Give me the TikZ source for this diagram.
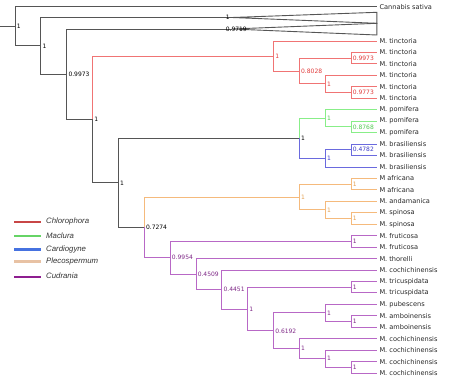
\documentclass[tikz,border=0pt]{standalone}
\usepackage{fontspec}
\setmainfont{DejaVu Sans}
\newfontfamily\legfont{Liberation Sans}
\definecolor{grayline}{HTML}{555555}
\definecolor{redline}{HTML}{F07474}
\definecolor{redtext}{HTML}{E03A3A}
\definecolor{greenline}{HTML}{88EE88}
\definecolor{greentext}{HTML}{52C852}
\definecolor{blueline}{HTML}{6A6ADE}
\definecolor{bluetext}{HTML}{3A3AC8}
\definecolor{orangeline}{HTML}{F5BA7C}
\definecolor{orangetext}{HTML}{E3A052}
\definecolor{purpleline}{HTML}{B868C6}
\definecolor{purpletext}{HTML}{7E2886}
\definecolor{legred}{HTML}{C84646}
\definecolor{leggreen}{HTML}{66D466}
\definecolor{legblue}{HTML}{4672E0}
\definecolor{legorange}{HTML}{E8C2A4}
\definecolor{legpurple}{HTML}{8E1E90}
\tikzset{
  br/.style={line width=0.9pt, grayline},
  rb/.style={br, redline},
  gb/.style={br, greenline},
  bb/.style={br, blueline},
  ob/.style={br, orangeline},
  pb/.style={br, purpleline},
  tip/.style={anchor=west, inner xsep=2.4pt, inner ysep=0pt, font=\fontsize{6.6}{7}\selectfont, text=black!85},
  lab/.style={anchor=west, inner xsep=1.6pt, inner ysep=0pt, font=\fontsize{6}{7}\selectfont},
  legline/.style={line width=2.2pt},
  legtext/.style={anchor=west, inner sep=0pt, font=\legfont\itshape\fontsize{7.8}{9}\selectfont, text=black!80}
}
\begin{document}
\begin{tikzpicture}[x=1pt,y=-1pt]
\useasboundingbox (0,0) rectangle (468,381);
% ---- internal node coordinates
\coordinate (stub) at (0,26.25);
\coordinate (root) at (15,26.25);
\coordinate (n1) at (40.85,45.85);
\coordinate (n2) at (66.7,74.2);
\coordinate (n3) at (92.55,119.44);
\coordinate (tri1) at (232,17.5);
\coordinate (tri2) at (232,29);
\coordinate (A) at (273.5,56.03);
\coordinate (B) at (299.35,71.06);
\coordinate (C) at (351.05,58.18);
\coordinate (D) at (325.2,83.94);
\coordinate (E) at (351.05,92.53);
\coordinate (F) at (118.4,182.84);
\coordinate (G) at (299.35,138.33);
\coordinate (Gn) at (325.2,118.29);
\coordinate (P2) at (351.05,126.88);
\coordinate (Bl) at (325.2,158.36);
\coordinate (Bz) at (351.05,149.78);
\coordinate (H) at (144.25,227.35);
\coordinate (O) at (299.35,197.0);
\coordinate (Af) at (351.05,184.13);
\coordinate (I) at (325.2,209.89);
\coordinate (Sp) at (351.05,218.48);
\coordinate (Q1) at (170.1,257.7);
\coordinate (Fr) at (351.05,241.38);
\coordinate (Q2) at (195.95,274.03);
\coordinate (Q3) at (221.8,289.5);
\coordinate (Q4) at (247.65,309.0);
\coordinate (Tr) at (351.05,287.18);
\coordinate (Q5) at (273.5,330.83);
\coordinate (Pa) at (325.2,312.94);
\coordinate (Am) at (351.05,321.53);
\coordinate (Cc1) at (299.35,348.72);
\coordinate (Cc2) at (325.2,358.74);
\coordinate (Cc3) at (351.05,367.33);
% ---- tips
\node[tip] (cs) at (376.9,6.65) {Cannabis sativa};
\node[tip] (t0) at (376.9,41) {M. tinctoria};
\node[tip] (t1) at (376.9,52.45) {M. tinctoria};
\node[tip] (t2) at (376.9,63.9) {M. tinctoria};
\node[tip] (t3) at (376.9,75.35) {M. tinctoria};
\node[tip] (t4) at (376.9,86.8) {M. tinctoria};
\node[tip] (t5) at (376.9,98.25) {M. tinctoria};
\node[tip] (t6) at (376.9,109.7) {M. pomifera};
\node[tip] (t7) at (376.9,121.15) {M. pomifera};
\node[tip] (t8) at (376.9,132.6) {M. pomifera};
\node[tip] (t9) at (376.9,144.05) {M. brasiliensis};
\node[tip] (t10) at (376.9,155.5) {M. brasiliensis};
\node[tip] (t11) at (376.9,166.95) {M. brasiliensis};
\node[tip] (t12) at (376.9,178.4) {M africana};
\node[tip] (t13) at (376.9,189.85) {M africana};
\node[tip] (t14) at (376.9,201.3) {M. andamanica};
\node[tip] (t15) at (376.9,212.75) {M. spinosa};
\node[tip] (t16) at (376.9,224.2) {M. spinosa};
\node[tip] (t17) at (376.9,235.65) {M. fruticosa};
\node[tip] (t18) at (376.9,247.1) {M. fruticosa};
\node[tip] (t19) at (376.9,258.55) {M. thorelli};
\node[tip] (t20) at (376.9,270) {M. cochichinensis};
\node[tip] (t21) at (376.9,281.45) {M. tricuspidata};
\node[tip] (t22) at (376.9,292.9) {M. tricuspidata};
\node[tip] (t23) at (376.9,304.35) {M. pubescens};
\node[tip] (t24) at (376.9,315.8) {M. amboinensis};
\node[tip] (t25) at (376.9,327.25) {M. amboinensis};
\node[tip] (t26) at (376.9,338.7) {M. cochichinensis};
\node[tip] (t27) at (376.9,350.15) {M. cochichinensis};
\node[tip] (t28) at (376.9,361.6) {M. cochichinensis};
\node[tip] (t29) at (376.9,373.05) {M. cochichinensis};
% ---- collapsed clades
\coordinate (k1) at (376.9,12.3);
\coordinate (k2) at (376.9,23.3);
\coordinate (k3) at (376.9,35);
\draw[br] (tri1) -- (k1) -- (k2) -- cycle;
\draw[br] (tri2) -- (k2) -- (k3) -- cycle;
% ---- gray backbone
\draw[br] (stub) -- (root);
\draw[br] (root) |- (cs.west);
\draw[br] (root) |- (n1);
\draw[br] (n1) |- (tri1);
\draw[br] (n1) |- (n2);
\draw[br] (n2) |- (tri2);
\draw[br] (n2) |- (n3);
\draw[br] (n3) |- (F);
\draw[br] (F) |- (G);
\draw[br] (F) |- (H);
% ---- red clade
\draw[rb] (n3) |- (A);
\draw[rb] (A) |- (t0.west);
\draw[rb] (A) |- (B);
\draw[rb] (B) |- (C);
\draw[rb] (C) |- (t1.west);
\draw[rb] (C) |- (t2.west);
\draw[rb] (B) |- (D);
\draw[rb] (D) |- (t3.west);
\draw[rb] (D) |- (E);
\draw[rb] (E) |- (t4.west);
\draw[rb] (E) |- (t5.west);
% ---- green clade
\draw[gb] (G) |- (Gn);
\draw[gb] (Gn) |- (t6.west);
\draw[gb] (Gn) |- (P2);
\draw[gb] (P2) |- (t7.west);
\draw[gb] (P2) |- (t8.west);
% ---- blue clade
\draw[bb] (G) |- (Bl);
\draw[bb] (Bl) |- (Bz);
\draw[bb] (Bz) |- (t9.west);
\draw[bb] (Bz) |- (t10.west);
\draw[bb] (Bl) |- (t11.west);
% ---- orange clade
\draw[ob] (H) |- (O);
\draw[ob] (O) |- (Af);
\draw[ob] (Af) |- (t12.west);
\draw[ob] (Af) |- (t13.west);
\draw[ob] (O) |- (I);
\draw[ob] (I) |- (t14.west);
\draw[ob] (I) |- (Sp);
\draw[ob] (Sp) |- (t15.west);
\draw[ob] (Sp) |- (t16.west);
% ---- purple clade
\draw[pb] (H) |- (Q1);
\draw[pb] (Q1) |- (Fr);
\draw[pb] (Fr) |- (t17.west);
\draw[pb] (Fr) |- (t18.west);
\draw[pb] (Q1) |- (Q2);
\draw[pb] (Q2) |- (t19.west);
\draw[pb] (Q2) |- (Q3);
\draw[pb] (Q3) |- (t20.west);
\draw[pb] (Q3) |- (Q4);
\draw[pb] (Q4) |- (Tr);
\draw[pb] (Tr) |- (t21.west);
\draw[pb] (Tr) |- (t22.west);
\draw[pb] (Q4) |- (Q5);
\draw[pb] (Q5) |- (Pa);
\draw[pb] (Pa) |- (t23.west);
\draw[pb] (Pa) |- (Am);
\draw[pb] (Am) |- (t24.west);
\draw[pb] (Am) |- (t25.west);
\draw[pb] (Q5) |- (Cc1);
\draw[pb] (Cc1) |- (t26.west);
\draw[pb] (Cc1) |- (Cc2);
\draw[pb] (Cc2) |- (t27.west);
\draw[pb] (Cc2) |- (Cc3);
\draw[pb] (Cc3) |- (t28.west);
\draw[pb] (Cc3) |- (t29.west);
% ---- support labels
\node[lab] (lroot) at (root) {1};
\node[lab] (ln1) at (n1) {1};
\node[lab, xshift=-8pt] (ltri1) at (tri1) {1};
\node[lab, xshift=-8pt] (ltri2) at (tri2) {0.9719};
\node[lab] (ln2) at (n2) {0.9973};
\node[lab] (ln3) at (n3) {1};
\node[lab] (lF) at (F) {1};
\node[lab] (lG) at (G) {1};
\node[lab] (lH) at (H) {0.7274};
\node[lab, text=redtext] (lA) at (A) {1};
\node[lab, text=redtext] (lB) at (B) {0.8028};
\node[lab, text=redtext] (lC) at (C) {0.9973};
\node[lab, text=redtext] (lD) at (D) {1};
\node[lab, text=redtext] (lE) at (E) {0.9773};
\node[lab, text=greentext] (lGn) at (Gn) {1};
\node[lab, text=greentext] (lP2) at (P2) {0.8768};
\node[lab, text=bluetext] (lBl) at (Bl) {1};
\node[lab, text=bluetext] (lBz) at (Bz) {0.4782};
\node[lab, text=orangetext] (lO) at (O) {1};
\node[lab, text=orangetext] (lAf) at (Af) {1};
\node[lab, text=orangetext] (lI) at (I) {1};
\node[lab, text=orangetext] (lSp) at (Sp) {1};
\node[lab, text=purpletext] (lQ1) at (Q1) {0.9954};
\node[lab, text=purpletext] (lFr) at (Fr) {1};
\node[lab, text=purpletext] (lQ2) at (Q2) {0.4509};
\node[lab, text=purpletext] (lQ3) at (Q3) {0.4451};
\node[lab, text=purpletext] (lQ4) at (Q4) {1};
\node[lab, text=purpletext] (lTr) at (Tr) {1};
\node[lab, text=purpletext] (lQ5) at (Q5) {0.6192};
\node[lab, text=purpletext] (lPa) at (Pa) {1};
\node[lab, text=purpletext] (lAm) at (Am) {1};
\node[lab, text=purpletext] (lCc1) at (Cc1) {1};
\node[lab, text=purpletext] (lCc2) at (Cc2) {1};
\node[lab, text=purpletext] (lCc3) at (Cc3) {1};
% ---- legend
\coordinate (la1) at (14,222); \coordinate (lb1) at (41,222);
\coordinate (la2) at (14,236); \coordinate (lb2) at (41,236);
\coordinate (la3) at (14,249.5); \coordinate (lb3) at (41,249.5);
\coordinate (la4) at (14,261.5); \coordinate (lb4) at (41,261.5);
\coordinate (la5) at (14,277); \coordinate (lb5) at (41,277);
\draw[legline, legred] (la1) -- (lb1);
\draw[legline, leggreen] (la2) -- (lb2);
\draw[legline, legblue] (la3) -- (lb3);
\draw[legline, legorange] (la4) -- (lb4);
\draw[legline, legpurple] (la5) -- (lb5);
\node[legtext] (g1) at (46,221.5) {Chlorophora};
\node[legtext] (g2) at (46,235.5) {Maclura};
\node[legtext] (g3) at (46,249.5) {Cardiogyne};
\node[legtext] (g4) at (46,261) {Plecospermum};
\node[legtext] (g5) at (46,276) {Cudrania};
\end{tikzpicture}
\end{document}
